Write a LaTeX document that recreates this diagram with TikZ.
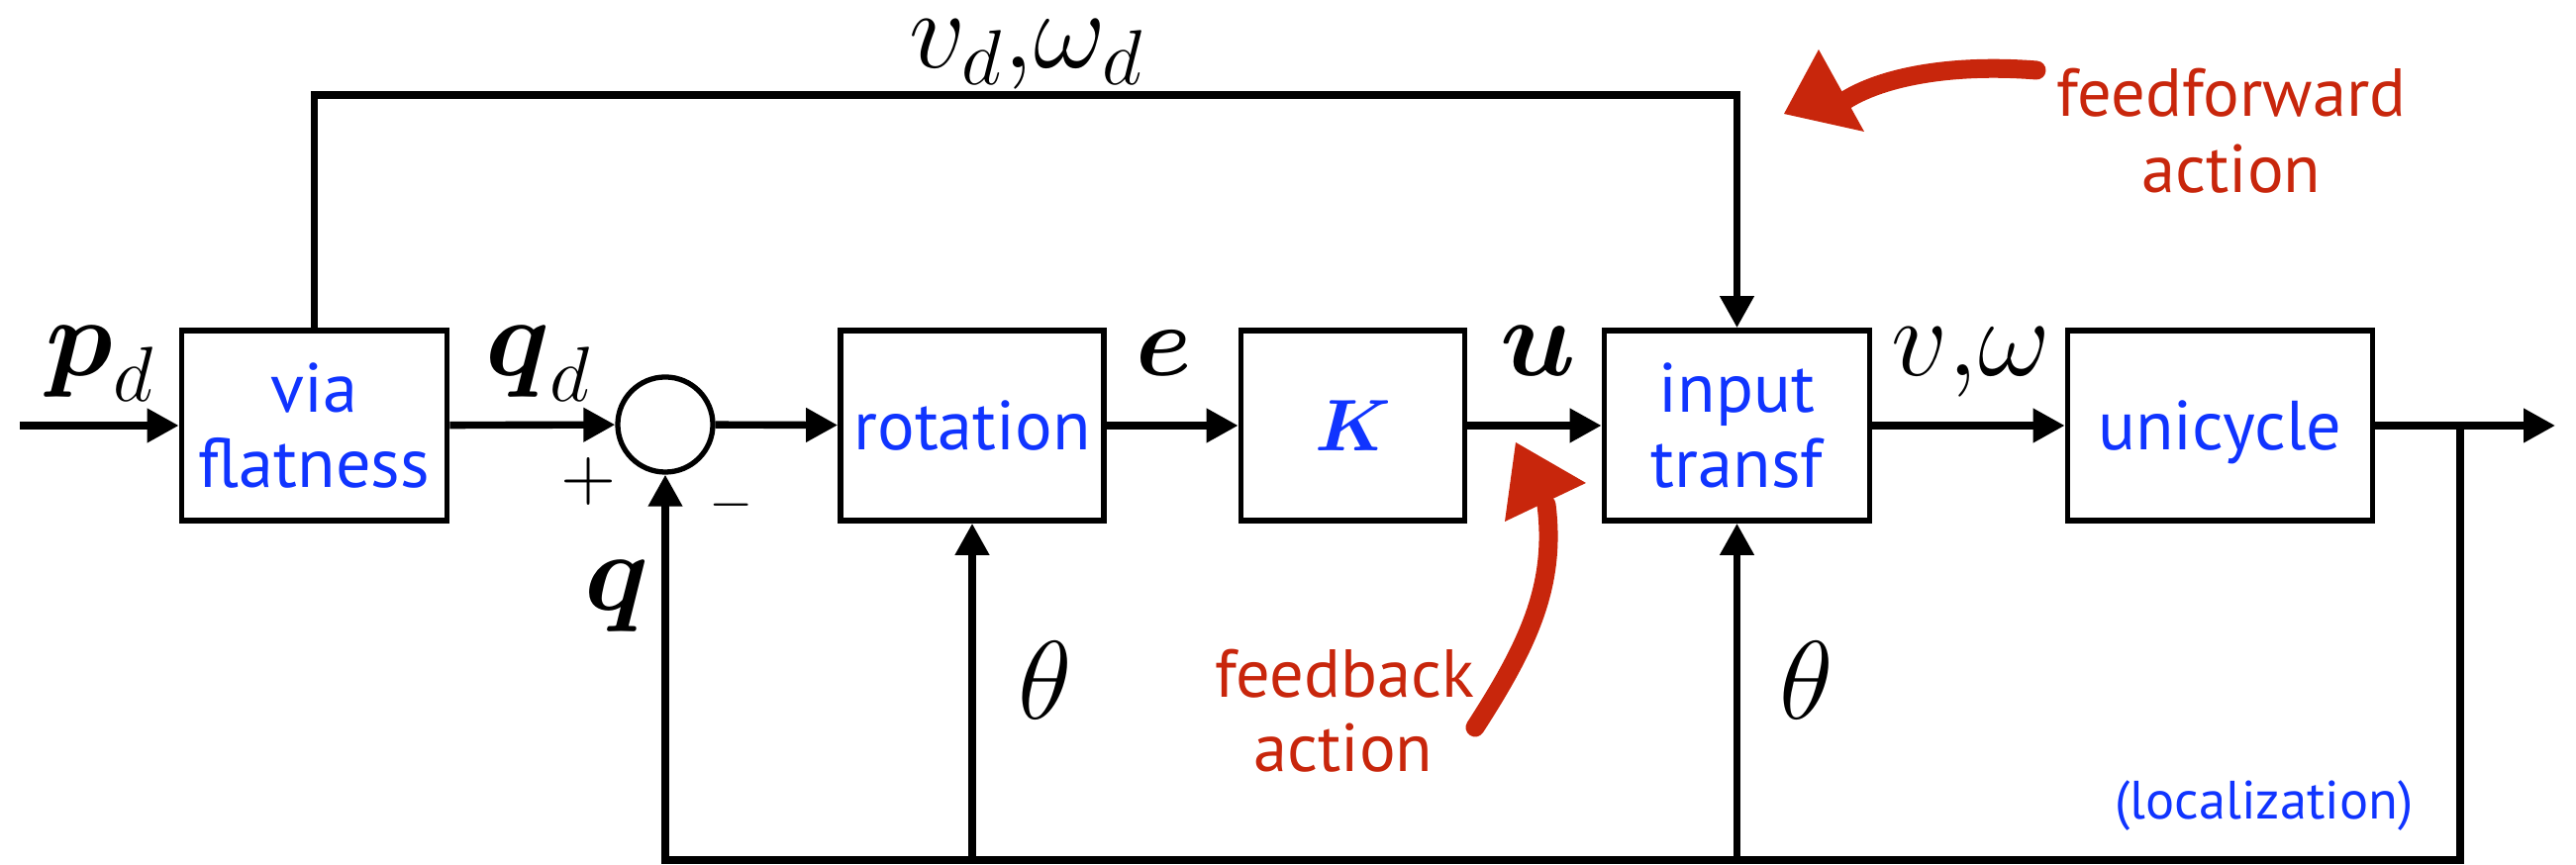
\RequirePackage{fix-cm}
\documentclass[tikz,border=0pt]{standalone}
\usepackage{amsmath}
\usepackage{fontspec}
\newfontfamily\gill{PT Sans}
\usetikzlibrary{arrows.meta}
\definecolor{boxblue}{RGB}{16,52,255}
\definecolor{noteRed}{RGB}{200,38,12}
\tikzset{
  sig/.style={line width=2.1pt, line join=miter, -{Triangle[length=0.32cm,width=0.33cm]}},
  wire/.style={line width=2.1pt},
  blk/.style={draw, line width=1.6pt, fill=white, text=boxblue, inner sep=0pt,
    minimum height=1.92cm, font=\gill\fontsize{20}{21.6}\selectfont, align=center},
  single/.style={text depth=0pt},
  sumc/.style={draw, circle, line width=1.5pt, minimum size=0.96cm, inner sep=0pt},
  mlab/.style={inner sep=0pt, font=\fontsize{32}{38}\selectfont},
  sgn/.style={inner sep=0pt},
  note/.style={inner sep=0pt, text=noteRed, font=\gill\fontsize{19.5}{23}\selectfont},
  redarrow/.style={draw=noteRed, line width=0.19cm, line cap=round},
  loc/.style={inner sep=0pt, text=boxblue, font=\gill\fontsize{15.5}{18}\selectfont},
}
\begin{document}
\begin{tikzpicture}[x=0.01cm,y=-0.01cm]
\useasboundingbox (0,0) rectangle (2602,874);
% blocks
\node[blk, minimum width=2.68cm] (via) at (317.5,430) {via\\flatness};
\node[sumc] (sum) at (672,429) {};
\node[blk, single, minimum width=2.66cm] (rot) at (982,430) {rotation};
\node[blk, single, minimum width=2.26cm, font=\fontsize{21}{24}\selectfont] (K) at (1366.5,430) {$\boldsymbol{K}$};
\node[blk, minimum width=2.68cm] (inp) at (1754.5,430) {input\\transf};
\node[blk, single, minimum width=3.08cm] (uni) at (2242.5,430) {unicycle};
% coordinates
\coordinate (in) at (20,430);
\coordinate (out) at (2581,430);
\coordinate (br) at (2485,430);
\coordinate (bot) at (2485,869);
\coordinate (fftop) at (1754.5,96);
% main path
\draw[sig] (in) -- (via);
\draw[sig] (via) -- (sum);
\draw[sig] (sum) -- (rot);
\draw[sig] (rot) -- (K);
\draw[sig] (K) -- (inp);
\draw[sig] (inp) -- (uni);
\draw[sig] (uni) -- (out);
% feedback
\draw[sig] (br) -- (bot) -| (sum.south);
\draw[sig] (rot.south |- bot) -- (rot.south);
\draw[sig] (inp.south |- bot) -- (inp.south);
% feedforward
\draw[sig] (via.north) |- (fftop) -- (inp.north);
% math labels
\node[mlab, anchor=base west] (pd) at (46,380) {$\boldsymbol{p}_d$};
\node[mlab, anchor=base west] (qd) at (490,380) {$\boldsymbol{q}_d$};
\node[mlab, anchor=base west, font=\fontsize{29}{34}\selectfont] (e) at (1147,380) {$\boldsymbol{e}$};
\node[mlab, anchor=base west] (u) at (1515,380) {$\boldsymbol{u}$};
\node[mlab, anchor=base west] (vw) at (1910,380) {$v,\!\omega$};
\node[mlab, anchor=base west] (vwd) at (918,69) {$v_d,\!\omega_d$};
\node[mlab, anchor=base west] (q) at (590,617) {$\boldsymbol{q}$};
\node[mlab, anchor=base west] (th1) at (1028,727) {$\theta$};
\node[mlab, anchor=base west] (th2) at (1797,727) {$\theta$};
\node[sgn, scale=2.05] (plus) at (595,486) {$+$};
\node[sgn, scale=1.62] (minus) at (739,510) {$-$};
% notes
\node[note, anchor=base] (fb1) at (1358,705) {feedback};
\node[note, anchor=base] (fb2) at (1357,780) {action};
\node[note, anchor=base] (ff1) at (2254,118) {feedforward};
\node[note, anchor=base] (ff2) at (2254,195) {action};
\node[loc, anchor=base] (locn) at (2287,828) {(localization)};
% red arrows
\coordinate (fbtail) at (1490,735);
\coordinate (fbhead) at (1562,510);
\draw[redarrow] (fbtail) .. controls (1545,650) and (1572,590) .. (fbhead);
\fill[noteRed] (1531,447) -- (1520,527) -- (1602,488) -- cycle;
\coordinate (fftail) at (2057,71);
\coordinate (ffhead) at (1852,110);
\draw[redarrow] (fftail) .. controls (1970,64) and (1890,78) .. (ffhead);
\fill[noteRed] (1837,50) -- (1802,115) -- (1883,133) -- cycle;
\end{tikzpicture}
\end{document}
